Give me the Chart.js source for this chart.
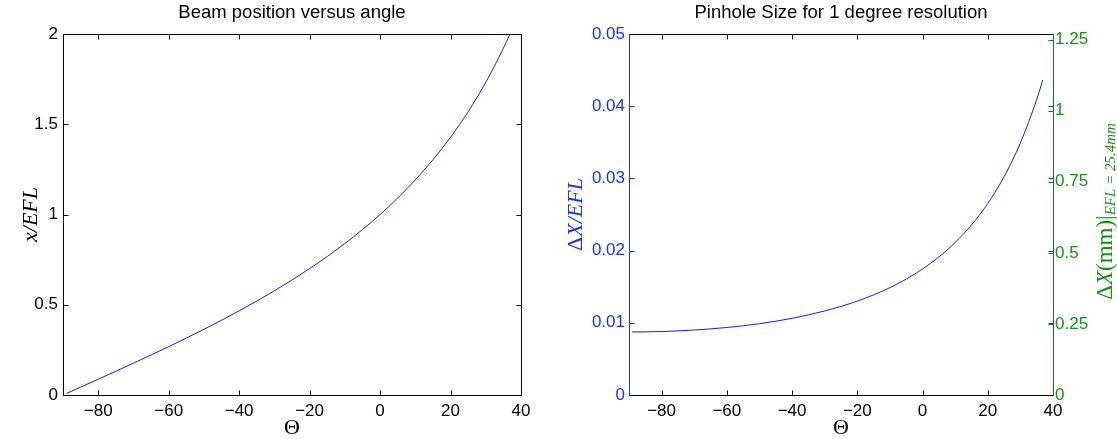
<!DOCTYPE html>
<html>
<head>
<meta charset="utf-8">
<script src="https://cdn.jsdelivr.net/npm/chart.js@4/dist/chart.umd.min.js"></script>
<style>
  html, body { margin: 0; padding: 0; background: #fff; }
  #wrap { position: relative; width: 1117px; height: 439px; overflow: hidden; }
  #wrap canvas { position: absolute; top: 0; }
</style>
</head>
<body>
<div id="wrap">
  <canvas id="beam" width="560" height="439" style="left:0"></canvas>
  <canvas id="pinhole" width="557" height="439" style="left:560px"></canvas>
</div>
<script>
// ── Data ────────────────────────────────────────────────────
const thetaDeg = [-89, -85, -80, -75, -70, -65, -60, -55, -50, -45, -40, -35, -30,
                  -25, -20, -15, -10, -5, 0, 5, 10, 15, 20, 25, 30, 35, 36.87];
const beamPos  = [0.0087, 0.0437, 0.0875, 0.1317, 0.1763, 0.2217, 0.2680, 0.3153, 0.3640,
                  0.4142, 0.4663, 0.5206, 0.5774, 0.6371, 0.7002, 0.7673, 0.8391, 0.9163,
                  1.0000, 1.0913, 1.1918, 1.3032, 1.4282, 1.5697, 1.7321, 1.9210, 2.0000];
const pinhole  = [0.00873, 0.00874, 0.00879, 0.00888, 0.00900, 0.00916, 0.00935, 0.00959,
                  0.00988, 0.01022, 0.01062, 0.01109, 0.01164, 0.01227, 0.01301, 0.01387,
                  0.01487, 0.01605, 0.01745, 0.01912, 0.02112, 0.02355, 0.02653, 0.03023,
                  0.03491, 0.04093, 0.04363];

const xTicks      = [-80, -60, -40, -20, 0, 20, 40];
const beamTicks   = [0, 0.5, 1, 1.5, 2];
const pinTicks    = [0, 0.01, 0.02, 0.03, 0.04, 0.05];
const mmTicks     = [0, 0.25, 0.5, 0.75, 1, 1.25];
const mmTickLabels = ['0', '0.25', '0.5', '0.75', '1', '1.25'];

const BLUE  = '#1432ff';
const LINE  = '#0a1eff';
const GREEN = '#139413';
const AXGREEN = '#0c7a2a';
const SANS  = "'Liberation Sans', Arial, Helvetica, sans-serif";
const SERIF = "'Liberation Serif', 'Times New Roman', serif";

Chart.defaults.font.family = SANS;
Chart.defaults.font.size = 17;
Chart.defaults.color = '#000';

const TL = 5; // inward tick length

// ── Helpers ─────────────────────────────────────────────────
function fixTicks(values) {
  return scale => { scale.ticks = values.map(v => ({ value: v })); };
}

function fmt(v) {
  return String(v).replace('-', '\u2212');
}

function hLine(ctx, x1, x2, y) {
  ctx.beginPath(); ctx.moveTo(x1, y); ctx.lineTo(x2, y); ctx.stroke();
}
function vLine(ctx, x, y1, y2) {
  ctx.beginPath(); ctx.moveTo(x, y1); ctx.lineTo(x, y2); ctx.stroke();
}

// draws a run of text pieces (mixed fonts), centred on (x, y), optionally rotated
function drawRuns(ctx, runs, x, y, rot, color) {
  ctx.save();
  ctx.translate(x, y);
  ctx.rotate(rot);
  ctx.fillStyle = color;
  ctx.textBaseline = 'alphabetic';
  ctx.textAlign = 'left';
  let w = 0;
  runs.forEach(r => { ctx.font = r.font; w += ctx.measureText(r.text).width; });
  let cx = -w / 2;
  runs.forEach(r => {
    ctx.font = r.font;
    ctx.fillText(r.text, cx, r.dy || 0);
    cx += ctx.measureText(r.text).width;
  });
  ctx.restore();
}

const UP  = '22px ' + SERIF;
const IT  = 'italic 22px ' + SERIF;
const UP2 = '23px ' + SERIF;
const IT2 = 'italic 23px ' + SERIF;
const SUB = 'italic 15px ' + SERIF;

// frame, inward ticks, titles and axis labels
const decor = {
  id: 'decor',
  afterDraw(chart, args, o) {
    const { ctx, chartArea: a, scales } = chart;
    const L = Math.floor(a.left) + 0.5, R = Math.floor(a.right) + 0.5;
    const T = Math.floor(a.top) + 0.5,  B = Math.floor(a.bottom) + 0.5;
    ctx.save();
    ctx.lineWidth = 1;

    // x ticks, bottom and top
    ctx.strokeStyle = '#000';
    scales.x.ticks.forEach(t => {
      const px = Math.round(scales.x.getPixelForValue(t.value)) + 0.5;
      vLine(ctx, px, B, B - TL);
      vLine(ctx, px, T, T + TL);
    });

    // left axis ticks, mirrored on the right edge
    ctx.strokeStyle = o.leftColor;
    scales.y.ticks.forEach(t => {
      const py = Math.round(scales.y.getPixelForValue(t.value)) + 0.5;
      hLine(ctx, L, L + TL, py);
      hLine(ctx, R, R - TL, py);
    });

    // right (green) axis ticks
    if (scales.y2) {
      ctx.strokeStyle = o.rightColor;
      scales.y2.ticks.forEach(t => {
        const py = Math.round(scales.y2.getPixelForValue(t.value)) + 0.5;
        hLine(ctx, R, R - TL, py);
      });
    }

    // box
    ctx.strokeStyle = '#000';
    hLine(ctx, L, R, T);
    hLine(ctx, L, R, B);
    ctx.strokeStyle = o.leftColor;
    vLine(ctx, L, T, B);
    ctx.strokeStyle = o.rightColor;
    vLine(ctx, R, T, B);

    // title
    ctx.fillStyle = '#000';
    ctx.font = '18.5px ' + SANS;
    ctx.textAlign = 'center';
    ctx.textBaseline = 'middle';
    ctx.fillText(o.title, (a.left + a.right) / 2, 13);

    // x label
    drawRuns(ctx, [{ text: '\u0398', font: UP }], (a.left + a.right) / 2, 434, 0, '#000');

    // y labels
    const cy = (a.top + a.bottom) / 2;
    drawRuns(ctx, o.yLabel, o.yLabelX, cy, -Math.PI / 2, o.leftColor === '#000' ? '#000' : BLUE);
    if (o.y2Label) drawRuns(ctx, o.y2Label, o.y2LabelX, cy - 3, -Math.PI / 2, GREEN);
    ctx.restore();
  }
};

function lineSet(ys, color) {
  return {
    data: thetaDeg.map((t, i) => ({ x: t, y: ys[i] })),
    showLine: true,
    borderColor: color,
    borderWidth: 1,
    pointRadius: 0,
    cubicInterpolationMode: 'monotone',
    fill: false,
  };
}

const xScale = {
  type: 'linear',
  min: -90, max: 40,
  afterBuildTicks: fixTicks(xTicks),
  afterFit: s => { s.height = 44; },
  grid: { display: false, drawTicks: false, tickLength: 0 },
  border: { display: false },
  ticks: { padding: 6, color: '#000', callback: v => fmt(v), maxRotation: 0, autoSkip: false },
};

// ── Left: Beam position versus angle ───────────────────────
new Chart(document.getElementById('beam'), {
  type: 'scatter',
  data: { datasets: [lineSet(beamPos, LINE)] },
  options: {
    responsive: false,
    animation: false,
    layout: { padding: { top: 34, right: 39, left: 0, bottom: 0 } },
    plugins: {
      legend: { display: false },
      tooltip: { enabled: false },
      decor: {
        title: 'Beam position versus angle',
        leftColor: '#000', rightColor: '#000',
        yLabel: [{ text: 'x/EFL', font: IT }], yLabelX: 37,
      },
    },
    scales: {
      x: xScale,
      y: {
        type: 'linear', min: 0, max: 2,
        afterBuildTicks: fixTicks(beamTicks),
        afterFit: s => { s.width = 63; },
        grid: { display: false, drawTicks: false, tickLength: 0 },
        border: { display: false },
        ticks: { padding: 5, color: '#000', callback: v => fmt(v) },
      },
    },
  },
  plugins: [decor],
});

// ── Right: Pinhole Size for 1 degree resolution ────────────
new Chart(document.getElementById('pinhole'), {
  type: 'scatter',
  data: { datasets: [lineSet(pinhole, LINE)] },
  options: {
    responsive: false,
    animation: false,
    layout: { padding: { top: 34, right: 0, left: 0, bottom: 0 } },
    plugins: {
      legend: { display: false },
      tooltip: { enabled: false },
      decor: {
        title: 'Pinhole Size for 1 degree resolution',
        leftColor: BLUE, rightColor: AXGREEN,
        yLabel: [{ text: '\u0394', font: UP }, { text: 'X/EFL', font: IT }], yLabelX: 22,
        y2Label: [{ text: '\u0394', font: UP2 }, { text: 'X', font: IT2 }, { text: '(mm)|', font: UP2 },
                  { text: 'EFL = 25.4mm', font: SUB, dy: 3 }],
        y2LabelX: 552,
      },
    },
    scales: {
      x: xScale,
      y: {
        type: 'linear', position: 'left', min: 0, max: 0.05,
        afterBuildTicks: fixTicks(pinTicks),
        afterFit: s => { s.width = 69; },
        grid: { display: false, drawTicks: false, tickLength: 0 },
        border: { display: false },
        ticks: { padding: 4, color: BLUE, callback: v => fmt(v) },
      },
      y2: {
        type: 'linear', position: 'right', min: 0, max: 1.27,
        afterBuildTicks: fixTicks(mmTicks),
        afterFit: s => { s.width = 64; },
        grid: { display: false, drawTicks: false, tickLength: 0 },
        border: { display: false },
        ticks: { padding: 2, color: GREEN, callback: (v, i) => mmTickLabels[i] },
      },
    },
  },
  plugins: [decor],
});
</script>
</body>
</html>
